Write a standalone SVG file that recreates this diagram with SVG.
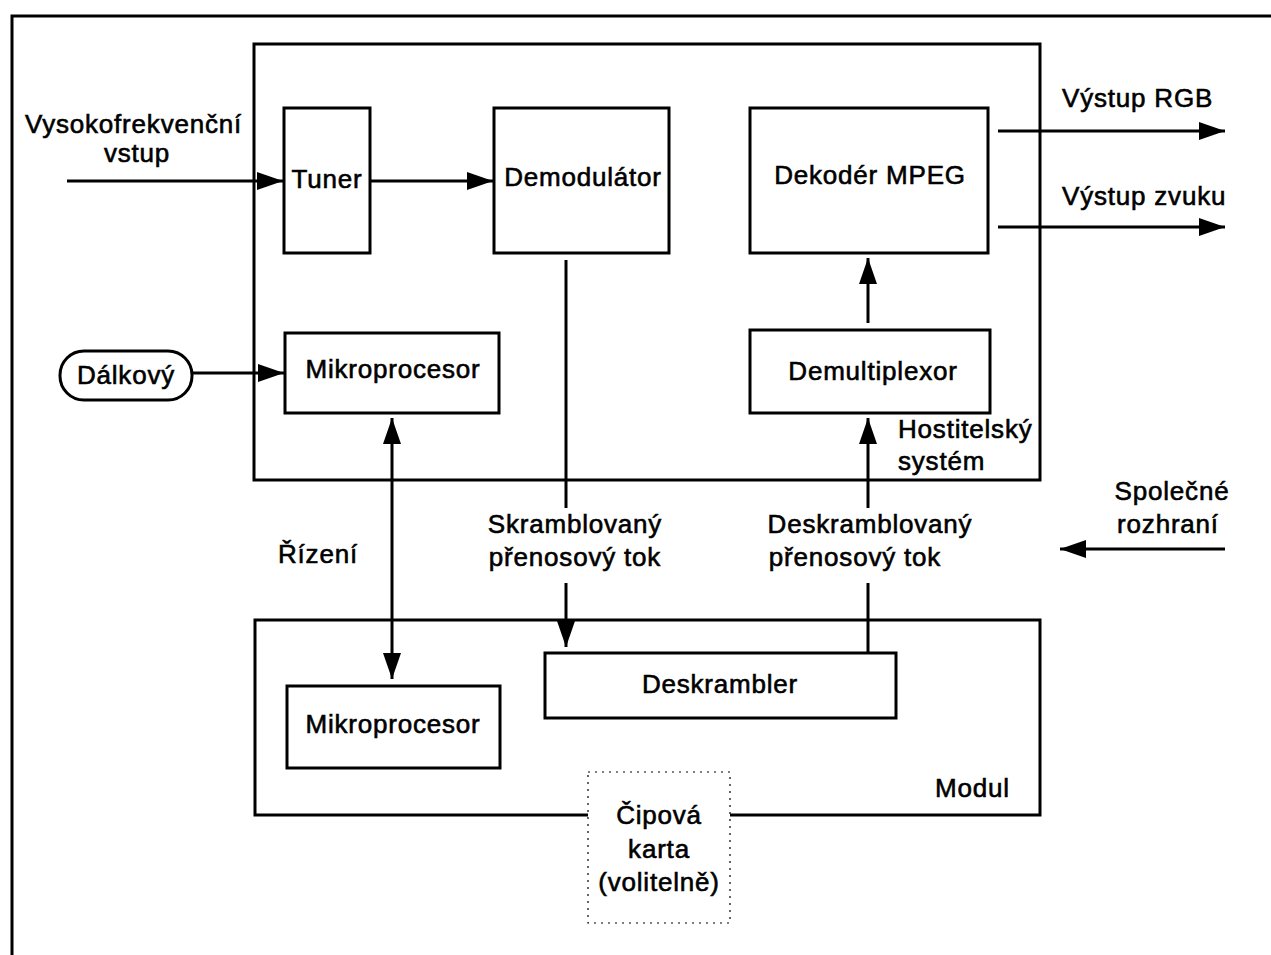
<svg xmlns="http://www.w3.org/2000/svg" width="1271" height="955" viewBox="0 0 1271 955">
<defs>
<style>
.box{fill:#fff;stroke:#000;stroke-width:3}
.frame{fill:none;stroke:#000;stroke-width:3}
.ln{fill:none;stroke:#000;stroke-width:3}
.t{font-family:"Liberation Sans",Arial,sans-serif;font-size:26px;letter-spacing:0.8px;fill:#000;stroke:#000;stroke-width:0.6px}
.c{text-anchor:middle}
</style>
<marker id="ah" markerUnits="userSpaceOnUse" markerWidth="28" markerHeight="20" refX="26" refY="9" orient="auto">
<path d="M0,0 L26,9 L0,18 Z" fill="#000"/>
</marker>
<marker id="ahs" markerUnits="userSpaceOnUse" markerWidth="28" markerHeight="20" refX="0" refY="9" orient="auto">
<path d="M26,0 L0,9 L26,18 Z" fill="#000"/>
</marker>
</defs>
<rect width="1271" height="955" fill="#fff"/>
<g id="outer-frame">
<polyline class="frame" points="12,955 12,16 1271,16"/>
</g>
<g id="host">
<rect class="frame" x="254" y="44" width="786" height="436"/>
<text class="t" x="898" y="438">Hostitelský</text>
<text class="t" x="898" y="470">systém</text>
</g>
<g id="module">
<polyline class="frame" points="588,815 255,815 255,620 1040,620 1040,815 730,815"/>
<text class="t" x="935" y="797">Modul</text>
</g>
<g id="tuner"><rect class="box" x="284" y="108" width="86" height="145"/><text class="t c" x="327" y="188">Tuner</text></g>
<g id="demodulator"><rect class="box" x="494" y="108" width="175" height="145"/><text class="t c" x="583" y="186">Demodulátor</text></g>
<g id="mpeg"><rect class="box" x="750" y="108" width="238" height="145"/><text class="t c" x="870" y="184">Dekodér MPEG</text></g>
<g id="mikro-host"><rect class="box" x="285" y="333" width="214" height="80"/><text class="t c" x="393" y="378">Mikroprocesor</text></g>
<g id="demux"><rect class="box" x="750" y="330" width="240" height="83"/><text class="t c" x="873" y="380">Demultiplexor</text></g>
<g id="deskrambler"><rect class="box" x="545" y="653" width="351" height="65"/><text class="t c" x="720" y="693">Deskrambler</text></g>
<g id="mikro-module"><rect class="box" x="287" y="686" width="213" height="82"/><text class="t c" x="393" y="733">Mikroprocesor</text></g>
<g id="dalkovy"><rect class="box" x="60" y="351" width="132" height="49" rx="24" ry="24"/><text class="t c" x="126" y="384">Dálkový</text></g>
<g id="chipcard">
<rect x="588" y="772" width="142" height="151" fill="#fff" stroke="#000" stroke-width="1.2" stroke-dasharray="2,5"/>
<text class="t c" x="659" y="824">Čipová</text>
<text class="t c" x="659" y="858">karta</text>
<text class="t c" x="659" y="891">(volitelně)</text>
</g>
<g id="connectors">
<line class="ln" x1="67" y1="181" x2="283" y2="181" marker-end="url(#ah)"/>
<line class="ln" x1="370" y1="181" x2="493" y2="181" marker-end="url(#ah)"/>
<line class="ln" x1="192" y1="373" x2="284" y2="373" marker-end="url(#ah)"/>
<line class="ln" x1="998" y1="131" x2="1225" y2="131" marker-end="url(#ah)"/>
<line class="ln" x1="998" y1="227" x2="1225" y2="227" marker-end="url(#ah)"/>
<line class="ln" x1="1225" y1="549" x2="1060" y2="549" marker-end="url(#ah)"/>
<line class="ln" x1="392" y1="418" x2="392" y2="679" marker-start="url(#ahs)" marker-end="url(#ah)"/>
<line class="ln" x1="566" y1="260" x2="566" y2="508"/>
<line class="ln" x1="566" y1="583" x2="566" y2="647" marker-end="url(#ah)"/>
<line class="ln" x1="868" y1="652" x2="868" y2="583"/>
<line class="ln" x1="868" y1="508" x2="868" y2="418" marker-end="url(#ah)"/>
<line class="ln" x1="868" y1="323" x2="868" y2="258" marker-end="url(#ah)"/>
</g>
<g id="labels">
<text class="t" x="25" y="133">Vysokofrekvenční</text>
<text class="t c" x="137" y="162">vstup</text>
<text class="t" x="1062" y="107">Výstup RGB</text>
<text class="t" x="1062" y="205">Výstup zvuku</text>
<text class="t c" x="1172" y="500">Společné</text>
<text class="t c" x="1168" y="533">rozhraní</text>
<text class="t" x="278" y="563">Řízení</text>
<text class="t c" x="575" y="533">Skramblovaný</text>
<text class="t c" x="575" y="566">přenosový tok</text>
<text class="t c" x="870" y="533">Deskramblovaný</text>
<text class="t c" x="855" y="566">přenosový tok</text>
</g>
</svg>
